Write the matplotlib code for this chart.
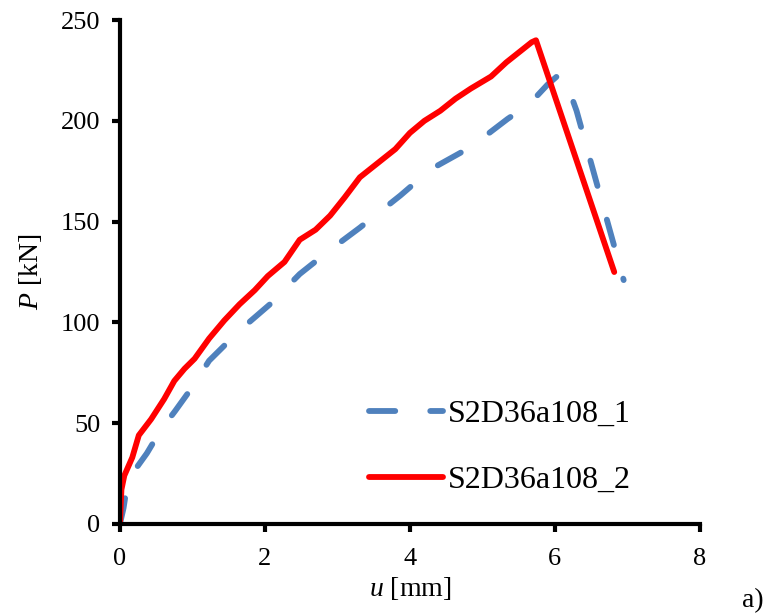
import matplotlib
matplotlib.use("Agg")
import matplotlib.pyplot as plt

plt.rcParams['font.family'] = ['Liberation Serif', 'DejaVu Serif']
plt.rcParams['mathtext.fontset'] = 'custom'
plt.rcParams['mathtext.it'] = 'Liberation Serif:italic'
plt.rcParams['mathtext.rm'] = 'Liberation Serif'

# S2D36a108_1 (blue dashed)
u1 = [0.0, 0.05, 0.08, 0.17, 0.37, 0.57, 0.76, 0.98, 1.23, 1.65, 2.07, 2.48,
      2.9, 3.31, 3.87, 4.29, 4.84, 5.35, 5.64, 5.9, 6.06, 6.16, 6.3, 6.95]
p1 = [0.0, 8, 15, 25, 35, 47, 56, 67, 81, 96, 109, 124,
      136, 147, 163, 176, 187, 201, 208, 218, 223, 219, 205, 121]

# S2D36a108_2 (red solid)
u2 = [0.0, 0.02, 0.06, 0.17, 0.26, 0.43, 0.61, 0.75, 0.89, 1.03, 1.23, 1.44,
      1.65, 1.86, 2.04, 2.27, 2.48, 2.7, 2.9, 3.1, 3.31, 3.52, 3.8, 4.0,
      4.2, 4.42, 4.63, 4.84, 5.12, 5.33, 5.54, 5.68, 5.74, 6.82]
p2 = [0.0, 17, 24, 33, 44, 52, 62, 71, 77, 82, 92, 101,
      109, 116, 123, 130, 141, 146, 153, 162, 172, 178, 186, 194,
      200, 205, 211, 216, 222, 229, 235, 239, 240, 125]

fig = plt.figure(figsize=(7.71, 6.16), dpi=100)
ax = fig.add_axes([0.1556, 0.1494, 0.752, 0.818])

l1, = ax.plot(u1, p1, color='#4F81BD', lw=4.2, label='S2D36a108_1',
              dash_capstyle='round', solid_capstyle='round')
l1.set_dashes((4.5, 6))
ax.plot(u2, p2, color='#FF0000', lw=4.2, label='S2D36a108_2',
        solid_capstyle='round', solid_joinstyle='round')

ax.set_xlim(0, 8)
ax.set_ylim(0, 250)
ax.set_xticks([0, 2, 4, 6, 8])
ax.set_yticks([0, 50, 100, 150, 200, 250])
for s in ['top', 'right']:
    ax.spines[s].set_visible(False)
for s in ['left', 'bottom']:
    ax.spines[s].set_linewidth(3)
ax.tick_params(width=3, length=6, labelsize=19)
ax.tick_params(axis='x', pad=11)
ax.tick_params(axis='y', pad=8)

ax.set_xlabel('$u$ [mm]', fontsize=20, labelpad=4)
ax.set_ylabel('$P$ [kN]', fontsize=20, labelpad=12)

ax.legend(loc='lower right', bbox_to_anchor=(0.93, 0.0), frameon=False,
          fontsize=23, handlelength=2.3, handletextpad=0.15, labelspacing=1.15)

fig.text(0.99, 0.005, 'a)', fontsize=20, ha='right', va='bottom')

fig.savefig('out.png', dpi=100)
